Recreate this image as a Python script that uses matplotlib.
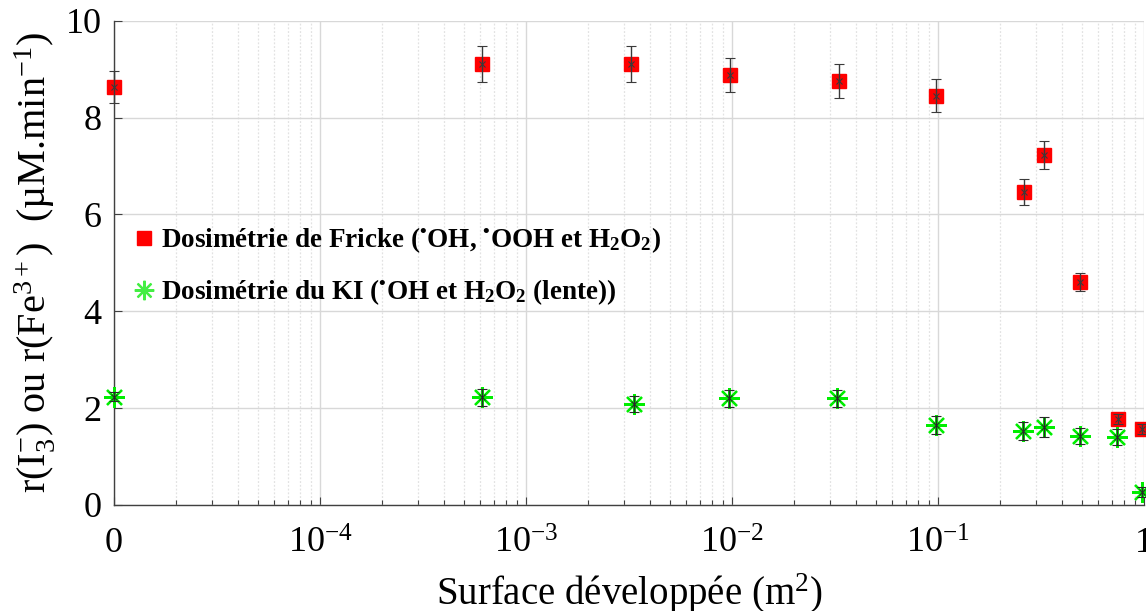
import matplotlib
matplotlib.use("Agg")
import matplotlib.pyplot as plt
from matplotlib.lines import Line2D

# ---------------- data ----------------
surface = [1e-5, 6.1e-4, 3.24e-3, 9.8e-3, 3.3e-2, 9.8e-2, 0.261, 0.327, 0.49, 0.748, 0.975]
fricke = [8.64, 9.10, 9.10, 8.88, 8.75, 8.45, 6.47, 7.23, 4.61, 1.77, 1.57]
fricke_err = [0.33, 0.37, 0.37, 0.36, 0.35, 0.34, 0.27, 0.29, 0.19, 0.10, 0.10]
surface_ki = [1e-5, 6.1e-4, 3.34e-3, 9.7e-3, 3.25e-2, 9.8e-2, 0.258, 0.327, 0.49, 0.74, 0.975]
ki = [2.24, 2.22, 2.09, 2.20, 2.20, 1.65, 1.53, 1.61, 1.42, 1.40, 0.27]
ki_err = [0.10, 0.17, 0.17, 0.17, 0.17, 0.18, 0.18, 0.20, 0.16, 0.16, 0.10]

xticks = [1e-5, 1e-4, 1e-3, 1e-2, 1e-1, 1]
xticklabels = ['0', r'$10^{-4}$', r'$10^{-3}$', r'$10^{-2}$', r'$10^{-1}$', '1']
yticks = [0, 2, 4, 6, 8, 10]

label_fricke = r'Dosimétrie de Fricke ($^{\mathbf{•}}$OH, $^{\mathbf{•}}$OOH et H$_\mathbf{2}$O$_\mathbf{2}$)'
label_ki = r'Dosimétrie du KI ($^{\mathbf{•}}$OH et H$_\mathbf{2}$O$_\mathbf{2}$ (lente))'

# ---------------- style ----------------
plt.rcParams['font.family'] = ['Liberation Serif', 'DejaVu Serif']
plt.rcParams['mathtext.fontset'] = 'custom'
plt.rcParams['mathtext.rm'] = 'Liberation Serif'
plt.rcParams['mathtext.it'] = 'Liberation Serif:italic'
plt.rcParams['mathtext.bf'] = 'Liberation Serif:bold'

fig = plt.figure(figsize=(11.46, 6.11), dpi=100)
ax = fig.add_axes([0.0995, 0.1735, 0.8988, 0.7926])

ax.set_xscale('log')
ax.set_xlim(1e-5, 1)
ax.set_ylim(0, 10)

grid_col = '#d8d8d8'
ax.grid(True, which='major', axis='both', color=grid_col, lw=1.0, ls='-', zorder=0)
ax.grid(True, which='minor', axis='x', color='#e2e2e2', lw=0.9, ls=(0, (1.5, 1.5)), zorder=0)

# Fricke squares
ax.plot(surface, fricke, ls='none', marker='s', ms=10.5, mfc='#ff0000', mec='#ff0000',
        zorder=3, clip_on=False)
ax.errorbar(surface, fricke, yerr=fricke_err, fmt='x', color='#3a3a3a', ms=4, mew=0.8,
            elinewidth=1.0, capsize=3.5, capthick=1.0, zorder=4, clip_on=False)

# KI asterisks
ax.plot(surface_ki, ki, ls='none', marker=(8, 2, 0), ms=15, mec='#00ee00', mew=1.6,
        zorder=3, clip_on=False)
ax.errorbar(surface_ki, ki, yerr=ki_err, fmt='x', color='#2a2a2a', ms=4, mew=0.8,
            elinewidth=1.0, capsize=3.5, capthick=1.0, zorder=4, clip_on=False)

ax.set_xticks(xticks)
ax.set_xticklabels(xticklabels)
ax.set_yticks(yticks)
ax.tick_params(axis='both', which='major', direction='in', length=6, width=0.8,
               color='#404040', labelsize=26, pad=9)
ax.tick_params(axis='x', which='minor', direction='in', length=3.5, width=0.8, color='#404040')
ax.tick_params(axis='x', which='major', pad=16)

for s in ['top', 'right']:
    ax.spines[s].set_visible(False)
for s in ['left', 'bottom']:
    ax.spines[s].set_color('#404040')
    ax.spines[s].set_linewidth(1.0)

ax.set_xlabel('Surface développée (m$^2$)', fontsize=28, labelpad=8)
ax.set_ylabel(r'r(I$_3^{-}$) ou r(Fe$^{3+}$)  (µM.min$^{-1}$)', fontsize=29, labelpad=6)

handles = [
    Line2D([], [], ls='none', marker='s', ms=10, mfc='#ff0000', mec='#ff0000'),
    Line2D([], [], ls='none', marker=(8, 2, 0), ms=14, mec='#44ee44', mew=1.6),
]
leg = ax.legend(handles, [label_fricke, label_ki], loc='center left',
                bbox_to_anchor=(0.0, 0.493), frameon=False, handlelength=0.8,
                handletextpad=0.25, labelspacing=0.82, borderaxespad=0.3,
                prop={'family': 'Liberation Serif', 'weight': 'bold', 'size': 19.5})

fig.savefig('out.png', dpi=100)
